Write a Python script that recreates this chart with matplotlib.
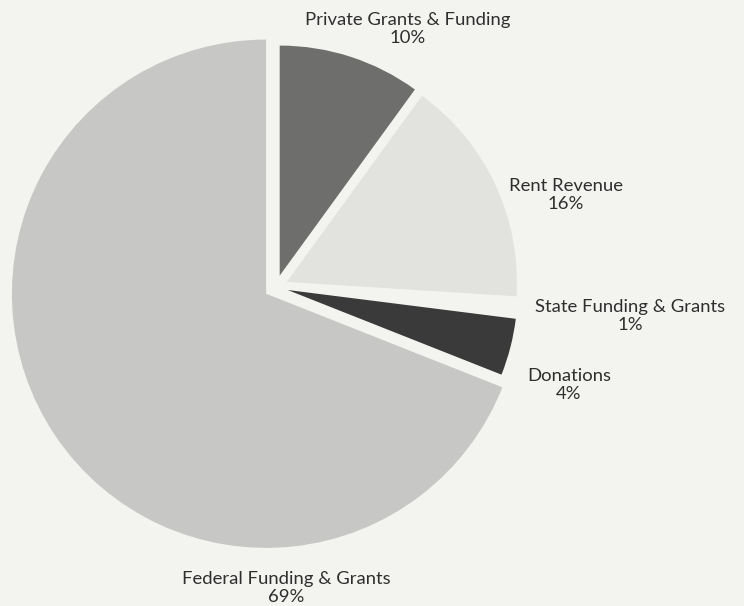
import matplotlib
matplotlib.use("Agg")
import matplotlib.pyplot as plt

# donnees du graphique
categories = ["Private Grants & Funding", "Rent Revenue", "State Funding & Grants",
              "Donations", "Federal Funding & Grants"]
valeurs = [10, 16, 1, 4, 69]

couleurs = ["#6e6e6c", "#e2e2df", "#f3f3f0", "#3a3a3a", "#c7c7c5"]
fond = "#f3f3f0"

# position des etiquettes (pixels, origine en haut a gauche)
pos_etiquettes = [(408, 29), (566, 195), (630, 316), (569, 385), (286, 588)]

W, H = 744, 606
fig = plt.figure(figsize=(W / 100, H / 100), dpi=100, facecolor=fond)
ax = fig.add_axes([0, 0, 1, 1])
ax.set_facecolor(fond)

centre = (276, H - 287)
rayon = 230

# explode est en unites de donnees (ici des pixels)
wedges, _ = ax.pie(valeurs, colors=couleurs, startangle=90, counterclock=False,
                   explode=[12] * len(valeurs), radius=rayon, center=centre,
                   wedgeprops=dict(linewidth=0))
# la part federale est dessinee un peu plus grande
wedges[4].set_radius(rayon * 1.105)

ax.set_xlim(0, W)
ax.set_ylim(0, H)
ax.set_aspect("equal")
ax.axis("off")

for nom, v, (x, y) in zip(categories, valeurs, pos_etiquettes):
    ax.text(x, H - y, nom + "\n" + str(v) + "%", ha="center", va="center",
            fontsize=13.3, family="Lato", color="#2e2e2e", linespacing=1.2)

fig.savefig("out.png", dpi=100, facecolor=fond)
